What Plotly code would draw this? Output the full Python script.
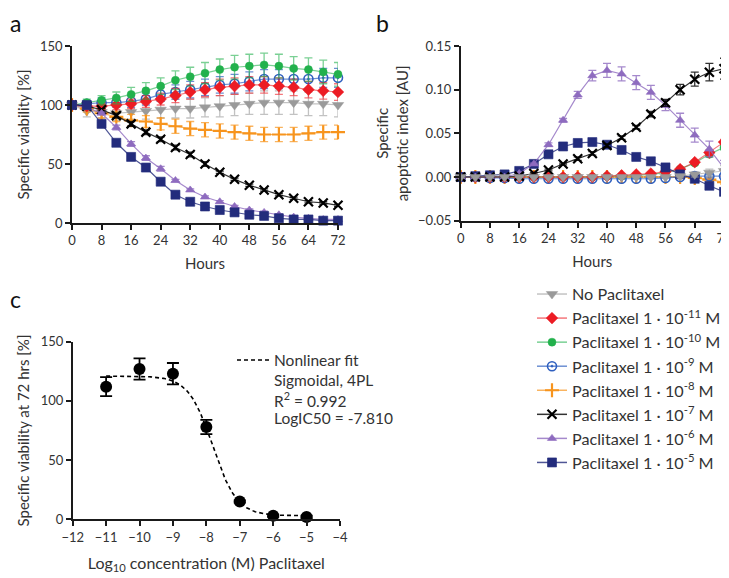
import numpy as np
import plotly.graph_objects as go

W, H = 729, 578

hours = [0, 4, 8, 12, 16, 20, 24, 28, 32, 36, 40, 44, 48, 52, 56, 60, 64, 68, 72]

series_names = [
    "No Paclitaxel",
    "Paclitaxel 1 · 10<sup>-11</sup> M",
    "Paclitaxel 1 · 10<sup>-10</sup> M",
    "Paclitaxel 1 · 10<sup>-9</sup> M",
    "Paclitaxel 1 · 10<sup>-8</sup> M",
    "Paclitaxel 1 · 10<sup>-7</sup> M",
    "Paclitaxel 1 · 10<sup>-6</sup> M",
    "Paclitaxel 1 · 10<sup>-5</sup> M",
]

# Panel a: specific viability [%]
via_none = [100, 95, 94, 93, 94, 95, 96, 97, 97, 98, 99, 100, 101, 102, 102, 102, 101, 101, 100]
via_e11 = [100, 99, 99, 100, 101, 103, 105, 108, 111, 113, 115, 116, 117, 117, 116, 115, 113, 112, 111]
via_e10 = [100, 102, 104, 106, 109, 112, 116, 121, 124, 127, 130, 132, 133, 134, 133, 131, 130, 128, 126]
via_e9 = [100, 101, 102, 102, 103, 105, 109, 111, 113, 115, 117, 118, 120, 122, 122, 122, 122, 123, 123]
via_e8 = [100, 97, 93, 90, 87, 86, 84, 82, 80, 79, 78, 77, 76, 75, 75, 75, 76, 77, 77]
via_e7 = [100, 99, 96, 91, 84, 77, 71, 64, 58, 50, 43, 37, 32, 28, 24, 21, 18, 17, 15]
via_e6 = [100, 98, 93, 81, 67, 55, 46, 36, 28, 22, 18, 14, 11, 9, 7, 5, 4, 3, 3]
via_e5 = [100, 100, 84, 68, 56, 47, 35, 24, 18, 14, 11, 9, 7, 6, 4, 3, 3, 2, 2]

via_err_none = [0, 5, 5, 6, 6, 7, 7, 8, 8, 8, 9, 9, 9, 10, 10, 10, 10, 10, 10]
via_err_e11 = [0, 3, 3, 4, 4, 5, 5, 6, 6, 6, 7, 7, 7, 7, 7, 7, 7, 7, 7]
via_err_e10 = [0, 3, 4, 5, 6, 7, 7, 8, 8, 9, 9, 10, 10, 10, 10, 10, 10, 10, 10]
via_err_e9 = [0, 3, 4, 4, 5, 5, 6, 6, 7, 7, 7, 8, 8, 8, 8, 8, 8, 8, 8]
via_err_e8 = [0, 3, 4, 4, 5, 5, 5, 6, 6, 6, 6, 6, 6, 6, 6, 6, 6, 6, 6]
via_err_e7 = [0, 1, 1, 2, 2, 2, 2, 2, 2, 2, 1, 1, 1, 1, 1, 1, 1, 1, 1]
via_err_e6 = [0, 1, 1, 2, 2, 2, 2, 1, 1, 1, 1, 1, 1, 1, 1, 1, 1, 1, 1]
via_err_e5 = [0, 1, 1, 1, 1, 1, 1, 1, 1, 1, 1, 1, 1, 1, 1, 1, 1, 1, 1]

# Panel b: specific apoptotic index [AU]
apo_none = [0, 0, 0, 0, 0, 0, 0, 0, 0, 0, 0, 0, 0, 0, 0, 0.001, 0.003, 0.005, 0.007]
apo_e11 = [0, 0, 0, 0, 0, 0, 0, 0, 0, 0, 0.001, 0.002, 0.003, 0.004, 0.006, 0.009, 0.017, 0.028, 0.040]
apo_e10 = [0, 0, 0, 0, 0, 0, 0, 0, 0, 0, 0.001, 0.001, 0.002, 0.003, 0.005, 0.009, 0.016, 0.026, 0.034]
apo_e9 = [0, 0, -0.001, -0.001, -0.002, -0.002, -0.002, -0.002, -0.002, -0.002, -0.002, -0.002, -0.002, -0.002, -0.001, 0, 0.001, 0.001, 0.001]
apo_e8 = [0, 0, 0, 0, 0, 0, 0, 0, 0, 0, 0, 0, 0, 0, 0, 0, -0.001, -0.003, -0.006]
apo_e7 = [0, 0, 0, 0, 0.001, 0.004, 0.008, 0.015, 0.021, 0.027, 0.036, 0.045, 0.057, 0.072, 0.085, 0.100, 0.112, 0.120, 0.124]
apo_e6 = [0, 0, 0, 0, 0.004, 0.015, 0.037, 0.065, 0.094, 0.116, 0.122, 0.118, 0.108, 0.097, 0.082, 0.065, 0.048, 0.032, 0.010]
apo_e5 = [0, 0.001, 0.002, 0.003, 0.007, 0.015, 0.026, 0.035, 0.039, 0.040, 0.037, 0.031, 0.023, 0.018, 0.011, 0.003, -0.002, -0.010, -0.017]

apo_err_none = [0, 0, 0, 0, 0, 0, 0, 0, 0, 0, 0, 0, 0, 0, 0.001, 0.002, 0.003, 0.004, 0.006]
apo_err_e11 = [0, 0, 0, 0, 0, 0, 0, 0, 0, 0, 0, 0, 0, 0, 0.001, 0.001, 0.002, 0.003, 0.003]
apo_err_e10 = [0, 0, 0, 0, 0, 0, 0, 0, 0, 0, 0, 0, 0, 0, 0.001, 0.001, 0.002, 0.003, 0.003]
apo_err_e9 = [0, 0, 0, 0, 0, 0, 0, 0, 0, 0, 0, 0, 0, 0, 0, 0.001, 0.001, 0.002, 0.002]
apo_err_e8 = [0, 0, 0, 0, 0, 0, 0, 0, 0, 0, 0, 0, 0, 0, 0, 0.001, 0.001, 0.002, 0.002]
apo_err_e7 = [0, 0, 0, 0, 0, 0.001, 0.001, 0.001, 0.002, 0.002, 0.002, 0.002, 0.002, 0.003, 0.004, 0.006, 0.008, 0.010, 0.012]
apo_err_e6 = [0, 0, 0, 0, 0, 0.001, 0.002, 0.002, 0.004, 0.006, 0.008, 0.008, 0.008, 0.008, 0.006, 0.008, 0.008, 0.009, 0.009]
apo_err_e5 = [0, 0, 0, 0, 0.001, 0.001, 0.001, 0.001, 0.001, 0.001, 0.001, 0.001, 0.001, 0.001, 0.001, 0.001, 0.001, 0.002, 0.002]

# Panel c: dose response at 72 hrs
log_conc = [-11, -10, -9, -8, -7, -6, -5]
via72 = [112, 127, 123, 78, 15, 3, 2]
via72_err = [8, 9, 9, 6, 1, 1, 1]

# 4PL fit parameters
fit_top, fit_bottom, fit_logic50, fit_hill = 121.0, 3.0, -7.810, 1.2

colors = ["#9a9a9a", "#ec1c24", "#22b14c", "#2f5fbf", "#f7941d", "#000000", "#8e6bbf", "#232c7c"]
line_colors = ["rgba(154,154,154,0.6)", "rgba(236,28,36,0.6)", "rgba(34,177,76,0.6)", "rgba(47,95,191,0.7)",
               "rgba(247,148,29,0.7)", "rgba(0,0,0,0.8)", "rgba(142,107,191,0.8)", "rgba(35,44,124,0.8)"]
symbols = ["triangle-down", "diamond", "circle", "circle-open-dot", "cross-thin-open", "x-thin-open", "triangle-up", "square"]
sizes = [10, 9, 8, 9, 10, 9, 8, 9]

via_all = [via_none, via_e11, via_e10, via_e9, via_e8, via_e7, via_e6, via_e5]
via_err_all = [via_err_none, via_err_e11, via_err_e10, via_err_e9, via_err_e8, via_err_e7, via_err_e6, via_err_e5]
apo_all = [apo_none, apo_e11, apo_e10, apo_e9, apo_e8, apo_e7, apo_e6, apo_e5]
apo_err_all = [apo_err_none, apo_err_e11, apo_err_e10, apo_err_e9, apo_err_e8, apo_err_e7, apo_err_e6, apo_err_e5]

FONT = "Lato"
TXT = "#333333"

fig = go.Figure()


def marker_for(i):
    sym = symbols[i]
    if sym in ("cross-thin-open", "x-thin-open"):
        return dict(symbol=sym, size=sizes[i], color=colors[i], line=dict(color=colors[i], width=2.2))
    if sym == "circle-open-dot":
        return dict(symbol=sym, size=sizes[i], color=colors[i], line=dict(color=colors[i], width=1.6))
    return dict(symbol=sym, size=sizes[i], color=colors[i], line=dict(color=line_colors[i], width=0.8))


draw_order = [0, 4, 3, 1, 2, 5, 6, 7]
for i in draw_order:
    fig.add_trace(go.Scatter(
        x=hours, y=via_all[i], mode="lines+markers", name=series_names[i],
        line=dict(color=line_colors[i], width=1.2), marker=marker_for(i),
        error_y=dict(type="data", array=via_err_all[i], color=line_colors[i], thickness=1.3, width=4),
        cliponaxis=False, showlegend=False, xaxis="x", yaxis="y"))

for i in [4, 3, 2, 1, 7, 6, 5, 0]:
    fig.add_trace(go.Scatter(
        x=hours, y=apo_all[i], mode="lines+markers", name=series_names[i],
        line=dict(color=line_colors[i], width=1.2), marker=marker_for(i),
        error_y=dict(type="data", array=apo_err_all[i], color=line_colors[i], thickness=1.3, width=4),
        cliponaxis=False, showlegend=False, xaxis="x2", yaxis="y2"))

# legend entries (in order)
for i in range(8):
    fig.add_trace(go.Scatter(
        x=[None], y=[None], mode="lines+markers", name=series_names[i],
        line=dict(color=line_colors[i], width=1.5), marker=marker_for(i),
        showlegend=True, xaxis="x", yaxis="y"))

# Panel c
fit_x = np.linspace(log_conc[0], log_conc[-1], 200)
fit_y = fit_bottom + (fit_top - fit_bottom) / (1 + 10 ** ((fit_x - fit_logic50) * fit_hill))
fig.add_trace(go.Scatter(x=fit_x, y=fit_y, mode="lines", line=dict(color="#000000", width=1.6, dash="4px,3px"),
                         showlegend=False, xaxis="x3", yaxis="y3", hoverinfo="skip"))
fig.add_trace(go.Scatter(x=log_conc, y=via72, mode="markers",
                         marker=dict(symbol="circle", size=12, color="#000000"),
                         error_y=dict(type="data", array=via72_err, color="#000000", thickness=1.8, width=6),
                         cliponaxis=False, showlegend=False, xaxis="x3", yaxis="y3"))

OFF = 8  # page body offset of the figure in the screenshot


def px_x(p):
    return (p - OFF) / W


def px_y(p):
    return 1 - (p - OFF) / H


axis_common = dict(showline=True, linecolor="#1a1a1a", linewidth=1.6, ticks="outside", ticklen=5,
                   tickwidth=1.6, tickcolor="#1a1a1a", showgrid=False, zeroline=False, automargin=False,
                   tickfont=dict(family=FONT, size=13, color=TXT), title_font=dict(family=FONT, size=15, color=TXT))

fig.update_layout(
    width=W, height=H, margin=dict(l=0, r=0, t=0, b=0),
    paper_bgcolor="white", plot_bgcolor="white",
    font=dict(family=FONT, color=TXT),
    xaxis=dict(domain=[px_x(72), px_x(338)], range=[0, 72], tickvals=list(range(0, 73, 8)),
               anchor="y", title=dict(text="Hours", standoff=11), **axis_common),
    yaxis=dict(domain=[px_y(223), px_y(46)], range=[0, 150], tickvals=[0, 50, 100, 150],
               anchor="x", title=dict(text="Specific viability [%]", standoff=7), **axis_common),
    xaxis2=dict(domain=[px_x(460.7), px_x(724)], range=[0, 72], tickvals=list(range(0, 73, 8)),
                anchor="y2", title=dict(text="Hours", standoff=11), **axis_common),
    yaxis2=dict(domain=[px_y(220.7), px_y(46)], range=[-0.05, 0.15], tickvals=[-0.05, 0, 0.05, 0.10, 0.15],
                tickformat=".2f", anchor="x2",
                title=dict(text="Specific<br>apoptotic index [AU]", standoff=6), **axis_common),
    xaxis3=dict(domain=[px_x(72.7), px_x(340)], range=[-12, -4], tickvals=list(range(-12, -3)),
                anchor="y3", title=dict(text="Log<sub>10</sub> concentration (M) Paclitaxel", standoff=14,
                                        font=dict(family=FONT, size=16, color=TXT)),
                **{k: v for k, v in axis_common.items() if k != "title_font"}),
    yaxis3=dict(domain=[px_y(519.3), px_y(341.7)], range=[0, 150], tickvals=[0, 50, 100, 150],
                anchor="x3", title=dict(text="Specific viability at 72 hrs [%]", standoff=7), **axis_common),
    legend=dict(x=px_x(532), y=px_y(277), xanchor="left", yanchor="top",
                font=dict(family=FONT, size=16.2, color=TXT), bgcolor="rgba(0,0,0,0)",
                itemwidth=30, tracegroupgap=0),
)

annots = [
    dict(text="a", x=px_x(16), y=1.0, yanchor="top"),
    dict(text="b", x=px_x(382), y=1.0, yanchor="top"),
    dict(text="c", x=px_x(16), y=px_y(299), yanchor="middle"),
]
for a in annots:
    fig.add_annotation(xref="paper", yref="paper", x=a["x"], y=a["y"], text=a["text"], showarrow=False,
                       font=dict(family=FONT, size=23, color="#111111"), xanchor="center", yanchor=a["yanchor"],
                       borderpad=0)

fit_lines = ["Nonlinear fit", "Sigmoidal, 4PL", "R<sup>2</sup> = 0.992", "LogIC50 = %.3f" % fit_logic50]
fit_ys = [360, 379.5, 399, 418.5]
for t, yy in zip(fit_lines, fit_ys):
    fig.add_annotation(xref="paper", yref="paper", x=px_x(272), y=px_y(yy), text=t, showarrow=False,
                       font=dict(family=FONT, size=15.5, color=TXT), xanchor="left", yanchor="middle")
fig.add_shape(type="line", xref="paper", yref="paper", x0=px_x(237), x1=px_x(270), y0=px_y(360), y1=px_y(360),
              line=dict(color="#000000", width=1.6, dash="4px,3px"))

fig.write_html("out.html")
